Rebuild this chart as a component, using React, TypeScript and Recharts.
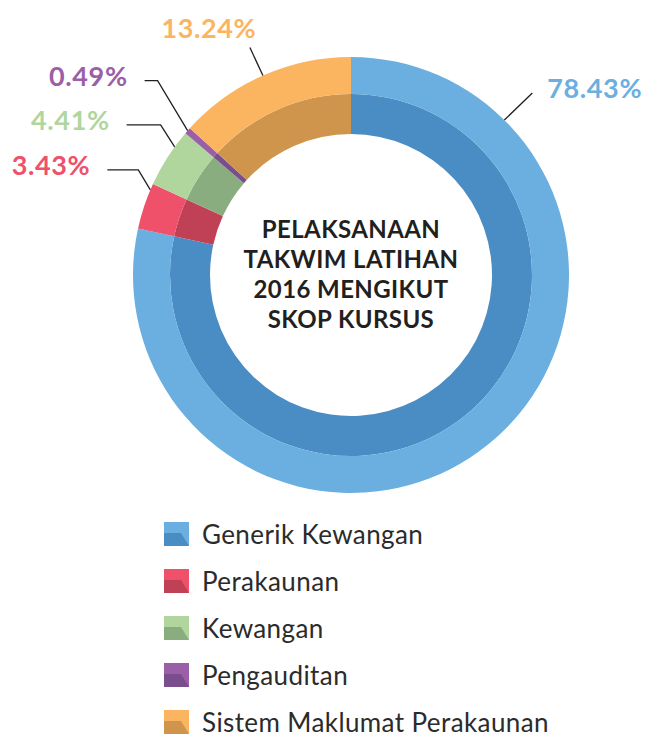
import React from "react";
import { PieChart, Pie, Cell, Legend } from "recharts";

const categories = [
  "Generik Kewangan",
  "Perakaunan",
  "Kewangan",
  "Pengauditan",
  "Sistem Maklumat Perakaunan",
];
const shares = [78.43, 3.43, 4.41, 0.49, 13.24];
const titleLines = ["PELAKSANAAN", "TAKWIM LATIHAN", "2016 MENGIKUT", "SKOP KURSUS"];

const outerColors = ["#6AAFE0", "#EF506A", "#B0D69E", "#9B5FA8", "#FBB45F"];
const innerColors = ["#4A8CC4", "#C04056", "#8AAD80", "#7A4D8C", "#D0954C"];

const data = categories.map((name, i) => ({ name, value: shares[i] }));

// where each callout leaves the ring and how it bends
const calloutLayout = [
  { angle: 45.3, dx: 28, dy: -27, h: 0, side: "right" },
  { angle: 157, dx: -12, dy: -20, h: -31, side: "left" },
  { angle: 144, dx: -14, dy: -22, h: -34, side: "left" },
  { angle: null, dx: -30, dy: -50, h: -13, side: "left" },
  { angle: null, dx: -13, dy: -28, h: 0, side: "top" },
];

const W = 646;
const H = 735;
const CX = 351;
const CY = 275;
const RAD = Math.PI / 180;

const renderCallout = (props: any) => {
  const { cx, cy, midAngle, outerRadius, index } = props;
  const lay = calloutLayout[index];
  const ang = lay.angle ?? midAngle;
  const sx = cx + outerRadius * Math.cos(ang * RAD);
  const sy = cy - outerRadius * Math.sin(ang * RAD);
  const ex = sx + lay.dx;
  const ey = sy + lay.dy;
  const hx = ex + lay.h;
  let tx = hx;
  let ty = ey + 5;
  let anchor: "start" | "end" | "middle" = "end";
  if (lay.side === "right") {
    tx = hx + 15;
    anchor = "start";
  } else if (lay.side === "left") {
    tx = hx - 17;
  } else {
    tx = ex - 41;
    ty = ey - 10;
    anchor = "middle";
  }
  return (
    <g key={`callout-${index}`}>
      <polyline
        points={`${sx},${sy} ${ex},${ey} ${hx},${ey}`}
        fill="none"
        stroke="#231F20"
        strokeWidth={1.3}
      />
      <text
        x={tx}
        y={ty}
        textAnchor={anchor}
        fill={outerColors[index]}
        fontFamily="Lato, sans-serif"
        fontWeight={700}
        fontSize={27}
        letterSpacing={0.6}
      >
        {shares[index].toFixed(2)}%
      </text>
    </g>
  );
};

const renderLegend = () => (
  <div style={{ fontFamily: "Lato, sans-serif" }}>
    {categories.map((name, i) => (
      <div
        key={name}
        style={{
          display: "flex",
          alignItems: "center",
          height: 28,
          marginBottom: i < categories.length - 1 ? 19 : 0,
        }}
      >
        <svg width={25} height={24} style={{ marginRight: 13 }}>
          <rect width={25} height={24} fill={outerColors[i]} />
          <polygon points="0,11 17,11 25,24 0,24" fill={innerColors[i]} />
        </svg>
        <span style={{ fontSize: 26, letterSpacing: 0.4, color: "#2B2B2B", lineHeight: "28px" }}>
          {name}
        </span>
      </div>
    ))}
  </div>
);

export default function App() {
  return (
    <div
      style={{
        position: "absolute",
        left: 0,
        top: 0,
        width: W,
        height: H,
        background: "#fff",
        overflow: "hidden",
      }}
    >
      <PieChart width={W} height={H} margin={{ top: 0, right: 0, bottom: 0, left: 0 }}>
        <Pie
          data={data}
          dataKey="value"
          cx={CX}
          cy={CY}
          innerRadius={141}
          outerRadius={181}
          startAngle={90}
          endAngle={-270}
          stroke="none"
          isAnimationActive={false}
        >
          {data.map((d, i) => (
            <Cell key={d.name} fill={innerColors[i]} />
          ))}
        </Pie>
        <Pie
          data={data}
          dataKey="value"
          cx={CX}
          cy={CY}
          innerRadius={181}
          outerRadius={218}
          startAngle={90}
          endAngle={-270}
          stroke="none"
          label={renderCallout}
          labelLine={false}
          isAnimationActive={false}
        >
          {data.map((d, i) => (
            <Cell key={d.name} fill={outerColors[i]} />
          ))}
        </Pie>
        <Legend
          content={renderLegend}
          wrapperStyle={{ position: "absolute", left: 164, top: 520, width: 470 }}
        />
      </PieChart>
      <div
        style={{
          position: "absolute",
          left: CX - 125,
          top: CY - 61,
          width: 250,
          textAlign: "center",
          fontFamily: "Lato, sans-serif",
          fontWeight: 700,
          fontSize: 24,
          letterSpacing: 0.4,
          lineHeight: "30px",
          color: "#231F20",
        }}
      >
        {titleLines.map((t) => (
          <div key={t}>{t}</div>
        ))}
      </div>
    </div>
  );
}
